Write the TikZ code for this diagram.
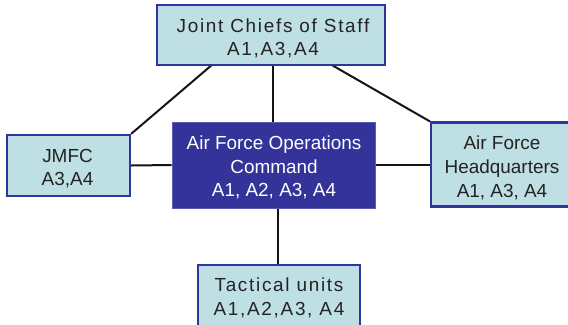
\documentclass[tikz,border=0pt]{standalone}
\usepackage{fontspec}
\setmainfont{Liberation Sans}
\newfontfamily\spacedfont[LetterSpace=9]{Liberation Sans}
\usetikzlibrary{backgrounds}
\definecolor{boxfill}{RGB}{190,223,227}
\definecolor{boxedge}{RGB}{51,51,160}
\definecolor{darkfill}{RGB}{51,51,153}
\definecolor{darkedge}{RGB}{90,90,180}
\definecolor{txt}{RGB}{35,35,35}
\definecolor{wire}{RGB}{20,20,20}
\begin{document}
\begin{tikzpicture}[x=1bp,y=-1bp,
  lbox/.style={draw=boxedge, line width=2.2bp, fill=boxfill, inner sep=0},
  dbox/.style={draw=darkedge, line width=0.8bp, fill=darkfill, inner sep=0},
  tl/.style={anchor=base, inner sep=0, font=\fontsize{19}{23}\selectfont, text=txt},
  sl/.style={tl, font=\fontsize{19}{23}\spacedfont},
  wl/.style={tl, text=white},
  conn/.style={draw=wire, line width=2bp}]
\path[use as bounding box, clip] (0,0) rectangle (568,324);
% boxes
\node[dbox, minimum width=203bp, minimum height=86bp] (ctr) at (273.5,165) {};
\node[lbox, minimum width=228bp, minimum height=60bp] (jcs) at (271,35) {};
\node[lbox, minimum width=123bp, minimum height=61bp] (jmfc) at (68.5,165.5) {};
\node[lbox, minimum width=138bp, minimum height=84bp] (hq) at (500,164.5) {};
\node[lbox, minimum width=162bp, minimum height=66bp] (tac) at (279,298) {};
% connectors behind the boxes
\coordinate (jcsL) at (213,64);
\coordinate (jcsR) at (330,64);
\begin{pgfonlayer}{background}
\fill[white] (0,0) rectangle (568,324);
\path[conn] (jcsL) -- (jmfc.north east);
\path[conn] (jcsR) -- (hq.north west);
\path[conn] (ctr.north -| 273,0) -- (jcs.south -| 273,0);
\path[conn] (jmfc.east) -- (ctr.west);
\path[conn] (ctr.east |- hq.west) -- (hq.west);
\path[conn] (tac.north -| 278,0) -- (ctr.south -| 278,0);
\end{pgfonlayer}
% texts
\node[sl] (jcs1) at (273,32) {Joint Chiefs of Staff};
\node[sl] (jcs2) at (273,55.5) {A1,A3,A4};
\node[tl] (jmfc1) at (67.5,162) {JMFC};
\node[tl] (jmfc2) at (67.5,185.5) {A3,A4};
\node[wl] (ctr1) at (274,149) {Air Force Operations};
\node[wl] (ctr2) at (274,173) {Command};
\node[wl] (ctr3) at (274,196.5) {A1, A2, A3, A4};
\node[tl] (hq1) at (502,149) {Air Force};
\node[tl] (hq2) at (502,173) {Headquarters};
\node[tl] (hq3) at (502,197) {A1, A3, A4};
\node[sl] (tac1) at (279,291.5) {Tactical units};
\node[sl] (tac2) at (279,315) {A1,A2,A3, A4};
\end{tikzpicture}
\end{document}
